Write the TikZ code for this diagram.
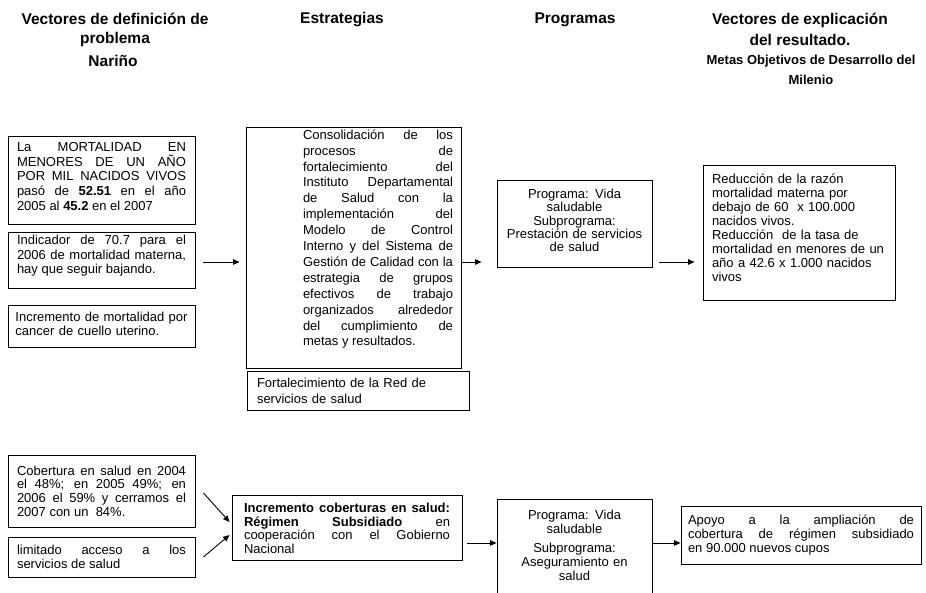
\documentclass[tikz,border=0pt]{standalone}
\usepackage{fontspec}
\setmainfont{Liberation Sans}
\usetikzlibrary{arrows.meta,calc}
\tolerance=10000
\hyphenpenalty=10000
\exhyphenpenalty=10000
\hbadness=10000
\tikzset{
  box/.style={draw, line width=0.9pt, inner sep=0pt, font=\fontsize{13}{14.6}\selectfont},
  plain/.style={inner sep=0pt, font=\fontsize{13}{14.6}\selectfont},
  head/.style={inner sep=0pt, align=center, font=\fontsize{15.5}{19}\selectfont\bfseries},
  subhead/.style={inner sep=0pt, align=center, font=\fontsize{13}{20}\selectfont\bfseries},
  arr/.style={line width=0.9pt, -{Triangle[length=6.5pt,width=5.5pt]}}
}
\begin{document}
\begin{tikzpicture}[x=1pt,y=-1pt]
\useasboundingbox[fill=white] (0,0) rectangle (926,592);

% headers
\node[head] (h1) at (115,30) {Vectores de definición de\\problema};
\node[head] (h1b) at (113,60.5) {Nariño};
\node[head] (h2) at (342,20) {Estrategias};
\node[head] (h3) at (575,20) {Programas};
\node[head, font=\fontsize{15.5}{21}\selectfont\bfseries] (h4) at (800,29.5) {Vectores de explicación\\del resultado.};
\node[subhead] (h5) at (811,70) {Metas Objetivos de Desarrollo del\\Milenio};

% left column top
\node[box, minimum width=187, minimum height=88] (A) at (101.5,180) {};
\node[plain, text width=169, align=justify] (At) at ([yshift=3.5pt]A.center)
 {La MORTALIDAD EN\linebreak MENORES DE UN AÑO\linebreak POR MIL NACIDOS VIVOS\linebreak pasó de \textbf{52.51} en el año\linebreak 2005 al \textbf{45.2} en el 2007};
\node[box, minimum width=187, minimum height=56] (B) at (101.5,260) {};
\node[plain, text width=169, align=justify] (Bt) at ([yshift=4pt]B.center)
 {Indicador de 70.7 para el\linebreak 2006 de mortalidad materna,\linebreak hay que seguir bajando.};
\node[box, minimum width=187, minimum height=42] (C) at (101.5,326) {};
\node[plain, text width=172, align=left] (Ct) at ([yshift=2pt]C.center)
 {Incremento de mortalidad por\\cancer de cuello uterino.};

% strategy
\node[box, minimum width=215, minimum height=241] (S) at (353.5,247.5) {};
\node[plain, anchor=north, text width=150, align=justify, font=\fontsize{13}{15.9}\selectfont] (St) at (378,129.5)
 {Consolidación de los\linebreak procesos de\linebreak fortalecimiento del\linebreak Instituto Departamental\linebreak de Salud con la\linebreak implementación del\linebreak Modelo de Control\linebreak Interno y del Sistema de\linebreak Gestión de Calidad con la\linebreak estrategia de grupos\linebreak efectivos de trabajo\linebreak organizados alrededor\linebreak del cumplimiento de\linebreak metas y resultados.};
\node[box, minimum width=222, minimum height=39, text width=202, align=left, font=\fontsize{13}{16}\selectfont] (R) at (358,390.5)
 {Fortalecimiento de la Red de\\servicios de salud};

% program 1
\node[box, minimum width=155, minimum height=87] (P1) at (574.5,223.5) {};
\node[plain, text width=150, align=center, font=\fontsize{13}{13.4}\selectfont] (P1t) at ([yshift=3pt]P1.center)
 {Programa: Vida\\saludable\\Subprograma:\\Prestación de servicios\\de salud};

% result 1
\node[box, minimum width=192, minimum height=135] (M1) at (799,232.5) {};
\node[plain, text width=174, align=left, font=\fontsize{13}{14}\selectfont] (M1t) at ([yshift=4.5pt]M1.center)
 {Reducción de la razón\\mortalidad materna por\\debajo de 60 \ x 100.000\\nacidos vivos.\\Reducción \ de la tasa de\\mortalidad en menores de un\\año a 42.6 x 1.000 nacidos\\vivos};

% bottom row
\node[box, minimum width=187, minimum height=72, text width=169, align=justify, font=\fontsize{13}{13.6}\selectfont] (D) at (101.5,491)
 {Cobertura en salud en 2004\linebreak el 48\%; en 2005 49\%; en\linebreak 2006 el 59\% y cerramos el\linebreak 2007 con un \ 84\%.};
\node[box, minimum width=187, minimum height=40, text width=169, align=justify, font=\fontsize{13}{13.6}\selectfont] (E) at (101.5,557)
 {limitado acceso a los\linebreak servicios de salud};
\node[box, minimum width=230, minimum height=65] (F) at (347,527.5) {};
\node[plain, text width=206, align=justify, font=\fontsize{13}{13.6}\selectfont] (Ft) at ([yshift=-1pt]F.center)
 {\textbf{Incremento coberturas en salud:}\linebreak \textbf{Régimen Subsidiado} en\linebreak cooperación con el Gobierno\linebreak Nacional};
\node[box, minimum width=155, minimum height=97] (P2) at (574.5,547.5) {};
\node[plain, text width=150, align=center, font=\fontsize{13}{14}\selectfont] (P2t) at ([yshift=2.5pt]P2.center)
 {Programa: Vida\\saludable\\[5pt]Subprograma:\\Aseguramiento en\\salud};
\node[box, minimum width=240, minimum height=58, text width=226, align=justify, font=\fontsize{13}{13.6}\selectfont] (M2) at (801,535)
 {Apoyo a la ampliación de\linebreak cobertura de régimen subsidiado\linebreak en 90.000 nuevos cupos};

% level coordinates
\coordinate (lvl) at (0,262);
\coordinate (lvl2) at (0,543);

% connectors
\draw[arr, shorten <=8pt, shorten >=6pt] (B.east |- lvl) -- (S.west |- lvl);
\draw[arr, shorten >=15pt] (S.east |- lvl) -- (P1.west |- lvl);
\draw[arr, shorten <=7pt, shorten >=8pt] (P1.east |- lvl) -- (M1.west |- lvl);
\draw[arr] ([xshift=8pt,yshift=-2pt]D.east) -- ([xshift=-2pt,yshift=5.5pt]F.west);
\draw[arr] ([xshift=8pt]E.east) -- ([xshift=-2pt,yshift=-7.5pt]F.west);
\draw[arr, shorten <=5pt] (F.east |- lvl2) -- (P2.west |- lvl2);
\draw[arr] (P2.east |- lvl2) -- (M2.west |- lvl2);
\end{tikzpicture}
\end{document}
